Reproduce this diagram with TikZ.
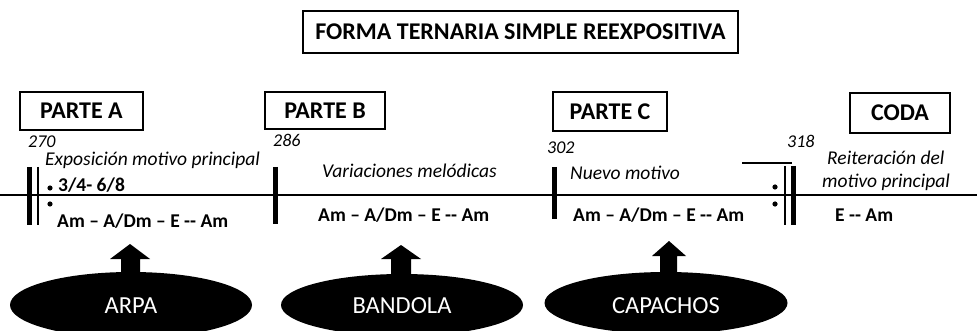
\documentclass[tikz,border=0pt]{standalone}
\usepackage{fontspec}
\setmainfont{Carlito}
\usetikzlibrary{shapes.geometric}
\begin{document}
\begin{tikzpicture}[x=1pt,y=-1pt,
  partbox/.style={draw,line width=1.2pt,inner sep=0pt,font=\bfseries\fontsize{24}{24}\selectfont},
  num/.style={anchor=base west,inner sep=0pt,font=\itshape\fontsize{18}{18}\selectfont},
  lbl/.style={anchor=base west,inner sep=0pt,font=\itshape\fontsize{19.5}{19.5}\selectfont},
  chord/.style={anchor=base west,inner sep=0pt,font=\bfseries\fontsize{19.5}{19.5}\selectfont},
  inst/.style={ellipse,fill=black,inner sep=0pt},
  insttext/.style={anchor=base,inner sep=0pt,text=white,font=\fontsize{24.5}{24.5}\selectfont},
  thickbar/.style={line width=5pt},
  thinbar/.style={line width=2pt}]
\useasboundingbox (0,0) rectangle (977,331);
\clip (0,0) rectangle (977,331);
% title
\node[partbox,minimum width=435pt,minimum height=42pt,font=\bfseries\fontsize{24}{24}\selectfont] (title) at (520.5,32) {FORMA TERNARIA SIMPLE REEXPOSITIVA};
% part boxes
\node[partbox,minimum width=123pt,minimum height=38pt] (pa) at (81.5,111) {PARTE A};
\node[partbox,minimum width=120pt,minimum height=37pt] (pb) at (325,110.5) {PARTE B};
\node[partbox,minimum width=114pt,minimum height=39pt] (pc) at (610,111.5) {PARTE C};
\node[partbox,minimum width=100pt,minimum height=40pt] (coda) at (900,113) {CODA};
% main line
\coordinate (lstart) at (0,195);
\coordinate (lend) at (977,195);
\draw[line width=2pt] (lstart) -- (lend);
% left repeat
\draw[thickbar] (29.5,167) -- (29.5,225);
\draw[thinbar] (38,167) -- (38,225);
\fill (50,188) circle (2.6pt) (50,204) circle (2.6pt);
% bars
\draw[thickbar] (275.5,167) -- (275.5,224);
\draw[thickbar] (554,167) -- (554,219);
% right repeat
\fill (775,187) circle (2.6pt) (775,204) circle (2.6pt);
\draw[thinbar] (785,166) -- (785,225);
\draw[thickbar] (793,166) -- (793,225);
\draw[line width=2pt] (742,163) -- (792,163);
% numbers
\node[num] (n270) at (28,148) {270};
\node[num] (n286) at (273,147) {286};
\node[num] (n302) at (547,154) {302};
\node[num] (n318) at (787,148) {318};
% labels
\node[lbl] (la) at (45,166) {Exposición motivo principal};
\node[lbl] (lb) at (322,178) {Variaciones melódicas};
\node[lbl] (lc) at (570,180) {Nuevo motivo};
\node[lbl] (ld1) at (827,165) {Reiteración del};
\node[lbl] (ld2) at (822,188) {motivo principal};
% chords
\node[chord] (meter) at (58,192) {3/4- 6/8};
\node[chord] (ca) at (57,227) {Am -- A/Dm -- E -{}- Am};
\node[chord] (cb) at (318,222) {Am -- A/Dm -- E -{}- Am};
\node[chord] (cc) at (573,222) {Am -- A/Dm -- E -{}- Am};
\node[chord] (cd) at (835,222) {E -{}- Am};
% instruments
\node[inst,minimum width=242pt,minimum height=66pt] (arpa) at (131,305) {};
\node[inst,minimum width=242pt,minimum height=62pt] (bandola) at (402,305) {};
\node[inst,minimum width=243pt,minimum height=62pt] (capachos) at (666,303) {};
\node[insttext] (tarpa) at (131,313) {ARPA};
\node[insttext] (tbandola) at (402,313) {BANDOLA};
\node[insttext] (tcapachos) at (666,313) {CAPACHOS};
% block arrows
\fill (121,276) -- (121,259) -- (110,259) -- (130,244) -- (150,259) -- (140,259) -- (140,276) -- cycle;
\fill (391,278) -- (391,259) -- (381,259) -- (401,245) -- (421,259) -- (411,259) -- (411,278) -- cycle;
\fill (660,275) -- (660,256) -- (652,256) -- (669,241) -- (686,256) -- (677,256) -- (677,275) -- cycle;
\end{tikzpicture}
\end{document}
